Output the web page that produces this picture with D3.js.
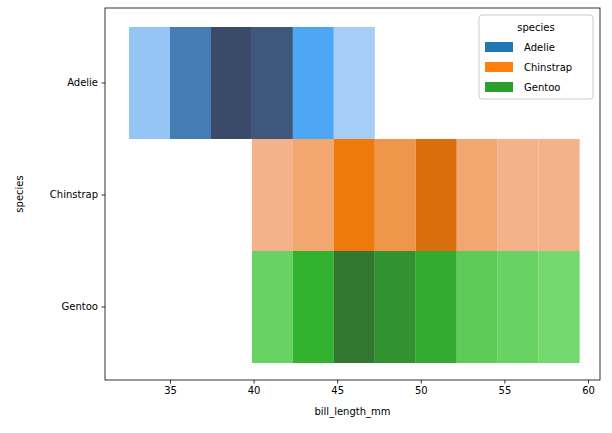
<!DOCTYPE html>
<html><head><meta charset="utf-8">
<script src="https://cdn.jsdelivr.net/npm/d3@7"></script>
<style>body{margin:0;background:#fff}text{font-family:"DejaVu Sans",sans-serif}</style>
</head><body><svg id="c" width="612" height="433"></svg>
<script>
const species = ["Adelie","Chinstrap","Gentoo"];
const binEdges = [32.55,35.0,37.45,39.9,42.35,44.8,47.25,49.7,52.15,54.6,57.05,59.5];
const adelieCounts =    [5,30,50,45,13,3,0,0,0,0,0];
const chinstrapCounts = [0,0,0,3,5,13,8,20,5,3,3];
const gentooCounts =    [0,0,0,4,13,35,25,16,6,4,2];
const xTicks = [35,40,45,50,55,60];
const baseColors = {Adelie:"#1f77b4",Chinstrap:"#ff7f0e",Gentoo:"#2ca02c"};
const cmapStops = {
  Adelie:["#c0d8f5","#4da7f5","#3a4b6a"],
  Chinstrap:["#f4c3b0","#ee7a0c","#7a3d0c"],
  Gentoo:["#80e07a","#33b230","#2f4f30"]
};
const countStops = [0,13,50];

const svg = d3.select("#c");
const L=105,R=600,T=8,B=380;
const x = d3.scaleLinear().domain([31.1,60.7]).range([L,R]);
// calibrate: 35->170, 60->588
x.domain([35-(170-L)/16.72, 35+(R-170)/16.72]);
const y = d3.scaleBand().domain(species).range([27,363]).padding(0);

const counts = {Adelie:adelieCounts,Chinstrap:chinstrapCounts,Gentoo:gentooCounts};
species.forEach(s=>{
  const col = d3.scaleLinear().domain(countStops).range(cmapStops[s]).interpolate(d3.interpolateRgb).clamp(true);
  counts[s].forEach((c,i)=>{
    if(!c) return;
    svg.append("rect").attr("x",x(binEdges[i])).attr("y",y(s))
      .attr("width",x(binEdges[i+1])-x(binEdges[i])).attr("height",y.bandwidth())
      .attr("fill",col(c));
  });
});

svg.append("rect").attr("x",L).attr("y",T).attr("width",R-L).attr("height",B-T)
  .attr("fill","none").attr("stroke","#000").attr("stroke-width",0.8);

const xa = svg.append("g").attr("transform",`translate(0,${B})`)
  .call(d3.axisBottom(x).tickValues(xTicks).tickSize(3.5).tickPadding(3.5));
const ya = svg.append("g").attr("transform",`translate(${L},0)`)
  .call(d3.axisLeft(y).tickSize(3.5).tickPadding(3.5));
[xa,ya].forEach(a=>{a.select(".domain").remove();a.selectAll("text").attr("font-size",10).attr("fill","#000").style("font-family","DejaVu Sans");a.selectAll("line").attr("stroke","#000").attr("stroke-width",0.8);});

svg.append("text").attr("x",(L+R)/2).attr("y",B+35).attr("text-anchor","middle").attr("font-size",10).text("bill_length_mm");
svg.append("text").attr("transform",`translate(${L-82},${(T+B)/2}) rotate(-90)`).attr("text-anchor","middle").attr("font-size",10).text("species");

// legend
const lg = svg.append("g");
lg.append("rect").attr("x",479).attr("y",15).attr("width",114).attr("height",84).attr("rx",3)
  .attr("fill","#fff").attr("fill-opacity",0.8).attr("stroke","#ccc");
lg.append("text").attr("x",536).attr("y",31).attr("text-anchor","middle").attr("font-size",10).text("species");
species.forEach((s,i)=>{
  lg.append("rect").attr("x",485).attr("y",42+i*20).attr("width",28).attr("height",10).attr("fill",baseColors[s]);
  lg.append("text").attr("x",524).attr("y",51+i*20).attr("font-size",10).text(s);
});
</script></body></html>
